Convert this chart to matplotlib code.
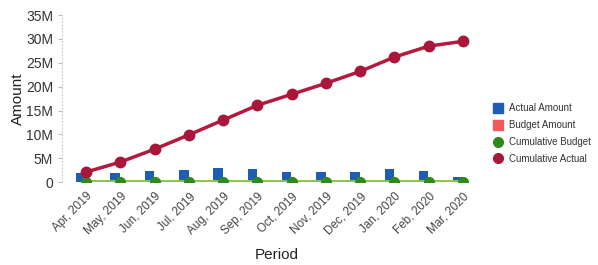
import numpy as np
import matplotlib.pyplot as plt
from matplotlib.lines import Line2D
from matplotlib.ticker import FuncFormatter

plt.rcParams["font.family"] = ["Liberation Sans", "DejaVu Sans"]

# Data (millions)
periods = ["Apr, 2019", "May, 2019", "Jun, 2019", "Jul, 2019", "Aug, 2019", "Sep, 2019",
           "Oct, 2019", "Nov, 2019", "Dec, 2019", "Jan, 2020", "Feb, 2020", "Mar, 2020"]
actual_amount = [2.0, 1.8, 2.3, 2.5, 3.0, 2.8, 2.2, 2.2, 2.2, 2.8, 2.4, 1.0]
budget_amount = [0.05, 0.05, 0.05, 0.05, 0.05, 0.05, 0.05, 0.05, 0.05, 0.05, 0.05, 0.05]
cumulative_budget = [0.1, 0.1, 0.1, 0.1, 0.1, 0.1, 0.1, 0.1, 0.1, 0.1, 0.1, 0.1]
cumulative_actual = [2.1, 4.2, 6.9, 9.9, 13.0, 16.1, 18.4, 20.7, 23.2, 26.2, 28.5, 29.5]

x = np.arange(len(periods))
scale = 1e6

blue = "#1f5db3"
pink = "#f05a5a"
green = "#2e8b1a"
red = "#a8173a"

fig = plt.figure(figsize=(5.98, 2.65), dpi=100)
ax = fig.add_axes([0.104, 0.313, 0.716, 0.63])

ax.bar(x - 0.15, np.array(actual_amount) * scale, width=0.28, color=blue, zorder=2)
ax.bar(x + 0.15, np.array(budget_amount) * scale, width=0.28, color=pink, zorder=2)
ax.plot(x, np.array(cumulative_budget) * scale, color="#8cc63f", lw=2.8, marker="o", ms=7,
        mfc=green, mec=green, zorder=3)
ax.plot(x, np.array(cumulative_actual) * scale, color="#b5193d", lw=2.5, marker="o", ms=7.5,
        mfc=red, mec=red, zorder=4)

ax.set_xlim(-0.7, 11.8)
ax.set_ylim(0, 35e6)
ax.set_yticks(np.arange(0, 36e6, 5e6))
ax.yaxis.set_major_formatter(FuncFormatter(lambda v, p: "0" if v == 0 else f"{v / 1e6:.0f}M"))
ax.set_xticks(x)
ax.set_xticklabels(periods, rotation=45, ha="right", rotation_mode="anchor")

for s in ["top", "right", "bottom"]:
    ax.spines[s].set_visible(False)
ax.spines["left"].set_color("#d0d0d0")
ax.spines["left"].set_linestyle((0, (1, 2)))
ax.axhline(0, color="#d0d0d0", lw=0.8, ls=(0, (2, 3)), zorder=1)
ax.tick_params(axis="y", length=3, color="#bbbbbb", labelsize=10, labelcolor="#333333")
ax.tick_params(axis="x", length=0, labelsize=8.5, labelcolor="#444444", pad=6)

ax.set_ylabel("Amount", fontsize=11, color="#222222", labelpad=1)
ax.set_xlabel("Period", fontsize=11, color="#222222", labelpad=8)

handles = [
    Line2D([], [], ls="none", marker="s", ms=7, mfc=blue, mec=blue),
    Line2D([], [], ls="none", marker="s", ms=7, mfc=pink, mec=pink),
    Line2D([], [], ls="none", marker="o", ms=7, mfc=green, mec=green),
    Line2D([], [], ls="none", marker="o", ms=7, mfc=red, mec=red),
]
labels = ["Actual Amount", "Budget Amount", "Cumulative Budget", "Cumulative Actual"]
fig.legend(handles, labels, loc="upper left", bbox_to_anchor=(0.826, 0.61), frameon=False,
           fontsize=7, handlelength=0.8, handletextpad=0.7, labelspacing=0.7, borderaxespad=0,
           borderpad=0, labelcolor="#333333")

fig.savefig("out.png", dpi=100)
